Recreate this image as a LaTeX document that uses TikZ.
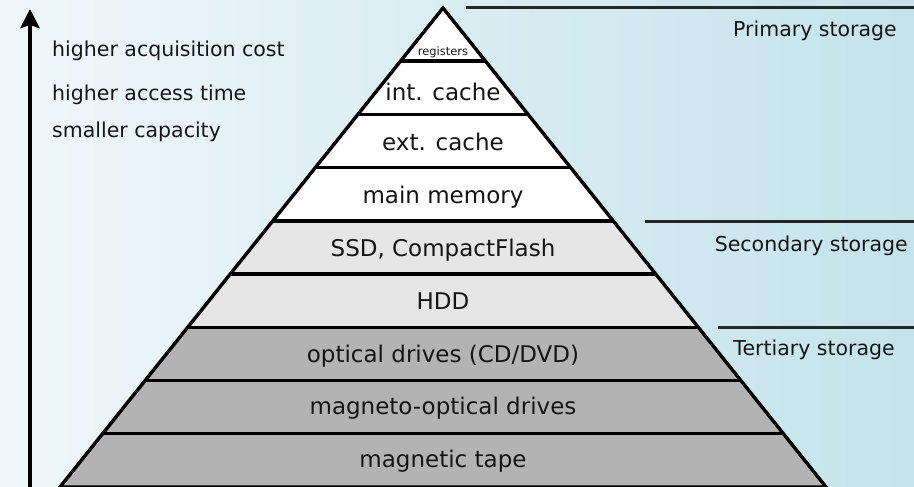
\documentclass[tikz,border=0pt]{standalone}
\usepackage{fontspec}
\setmainfont{DejaVu Sans}
\usetikzlibrary{arrows.meta}
\definecolor{bgL}{HTML}{F0F7FA}
\definecolor{bgR}{HTML}{C4E3EB}
\definecolor{tierA}{HTML}{FFFFFF}
\definecolor{tierB}{HTML}{E6E6E6}
\definecolor{tierC}{HTML}{B3B3B3}
\definecolor{ink}{HTML}{151515}
\begin{document}
\begin{tikzpicture}[x=1pt,y=-1pt,
  bandline/.style={draw=black,line width=3.4pt},
  bandtext/.style={font=\fontsize{23}{27}\selectfont, anchor=base, inner sep=0pt, text=ink},
  regtext/.style={font=\fontsize{11.5}{13}\selectfont, anchor=base, inner sep=0pt, text=ink},
  sidetext/.style={font=\fontsize{20.5}{24}\selectfont, inner sep=0pt, text=ink},
  tierline/.style={line width=3pt, draw=black!85}]
\path[use as bounding box, left color=bgL, right color=bgR] (0,0) rectangle (914,487);
\begin{scope}
\clip (0,0) rectangle (914,487);
% bands
\foreach \k/\c in {0/tierA,1/tierA,2/tierA,3/tierA,4/tierB,5/tierB,6/tierC,7/tierC,8/tierC}{
  \pgfmathsetmacro{\yt}{8+53.2*\k}
  \pgfmathsetmacro{\yb}{8+53.2*(\k+1)}
  \pgfmathsetmacro{\wt}{0.7996*(\yt-8)}
  \pgfmathsetmacro{\wb}{0.7996*(\yb-8)}
  \fill[\c] (443-\wt,\yt) -- (443+\wt,\yt) -- (443+\wb,\yb) -- (443-\wb,\yb) -- cycle;
}
\foreach \k in {1,...,8}{
  \pgfmathsetmacro{\yt}{8+53.2*\k}
  \pgfmathsetmacro{\wt}{0.7996*(\yt-8)}
  \draw[bandline] (443-\wt,\yt) -- (443+\wt,\yt);
}
\coordinate (apex) at (443,8);
\coordinate (bl) at (60,487);
\coordinate (br) at (826,487);
\draw[bandline, line join=miter] (bl) -- (apex) -- (br) -- cycle;
\end{scope}
% band texts
\node[regtext] (reg) at (443,56) {registers};
\node[bandtext] (intc) at (443,100) {int. cache};
\node[bandtext] (extc) at (443,150) {ext. cache};
\node[bandtext] (mem) at (443,203) {main memory};
\node[bandtext] (ssd) at (443,256) {SSD, CompactFlash};
\node[bandtext] (hdd) at (443,309) {HDD};
\node[bandtext] (opt) at (443,362) {optical drives (CD/DVD)};
\node[bandtext] (mo) at (443,414) {magneto-optical drives};
\node[bandtext] (tape) at (443,467) {magnetic tape};
% tier separators
\coordinate (p1) at (466,8); \coordinate (p2) at (914,8);
\coordinate (s1) at (645,221); \coordinate (s2) at (914,221);
\coordinate (t1) at (718,327); \coordinate (t2) at (914,327);
\draw[tierline] (p1) -- (p2);
\draw[tierline] (s1) -- (s2);
\draw[tierline] (t1) -- (t2);
\node[sidetext, anchor=base east] (prim) at (897,37) {Primary storage};
\node[sidetext, anchor=base east] (sec) at (908,251) {Secondary storage};
\node[sidetext, anchor=base east] (ter) at (895,355) {Tertiary storage};
% arrow and left texts
\coordinate (abot) at (30,487);
\coordinate (atop) at (30,9);
\draw[line width=4pt, -{Stealth[length=19pt,width=19pt,inset=3pt]}] (abot) -- (atop);
\node[sidetext, anchor=base west] (l1) at (52,57) {higher acquisition cost};
\node[sidetext, anchor=base west] (l2) at (52,101) {higher access time};
\node[sidetext, anchor=base west] (l3) at (52,138) {smaller capacity};
\end{tikzpicture}
\end{document}
